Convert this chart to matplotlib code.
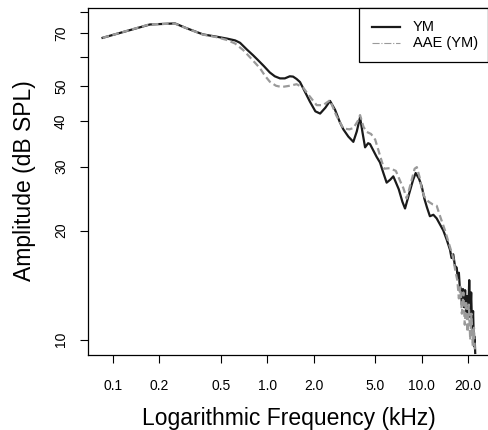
import matplotlib
matplotlib.use("Agg")
import matplotlib.pyplot as plt
from matplotlib.lines import Line2D
from matplotlib.patches import Rectangle

plt.rcParams['font.family'] = ['Liberation Sans', 'DejaVu Sans']

# ---- data ----
freq_ym = [0.086, 0.174, 0.253, 0.30, 0.384, 0.47, 0.547, 0.62, 0.667, 0.74, 0.81, 0.87,
           0.95, 1.04, 1.12, 1.21, 1.30, 1.40, 1.47, 1.55, 1.63, 1.71, 1.89, 2.05, 2.20,
           2.38, 2.55, 2.75, 2.95, 3.11, 3.35, 3.61, 3.80, 3.99, 4.15, 4.30, 4.50, 4.63,
           5.11, 5.37, 5.65, 5.93, 6.25, 6.55, 7.1, 7.5, 7.8, 8.3, 8.8, 9.14, 9.6, 10.0,
           10.4, 10.8, 11.3, 11.9, 12.5, 13.8, 14.5, 15.25, 15.6, 16.0, 16.4, 16.85, 17.1,
           17.4, 17.7, 17.9, 18.2, 18.5, 18.8, 19.1, 19.4, 19.7, 20.0, 20.3, 20.6, 20.9,
           21.2, 21.5, 21.8, 22.0, 22.2]
amp_ym = [67.9, 73.9, 74.4, 72.2, 69.4, 68.4, 67.6, 66.8, 65.8, 63.0, 60.8, 59.0,
          56.8, 54.5, 53.2, 52.5, 52.5, 53.2, 53.1, 52.3, 51.3, 49.3, 45.3, 42.6, 42.0,
          43.6, 45.5, 43.0, 39.8, 38.0, 36.3, 35.1, 37.5, 41.0, 37.0, 33.9, 34.8, 34.6,
          31.9, 30.8, 28.8, 27.1, 27.6, 28.2, 26.0, 24.0, 23.0, 25.3, 27.6, 28.8, 27.8, 26.5,
          24.5, 23.2, 21.9, 22.1, 21.6, 20.0, 18.9, 17.7, 16.8, 17.2, 16.0, 15.8, 14.8,
          15.3, 13.6, 13.9, 12.5, 13.8, 12.3, 13.7, 11.8, 13.2, 11.5, 14.6, 11.6, 13.5,
          10.6, 12.0, 9.6, 10.2, 9.2]

freq_aae = [0.086, 0.174, 0.253, 0.30, 0.384, 0.47, 0.547, 0.62, 0.70, 0.78, 0.898, 0.97,
            1.04, 1.14, 1.24, 1.40, 1.55, 1.71, 1.85, 2.09, 2.30, 2.55, 2.80, 3.11, 3.40,
            3.61, 3.85, 3.99, 4.2, 4.4, 4.7, 5.0, 5.3, 5.7, 6.2, 6.8, 7.3, 7.6, 8.0, 8.5,
            9.0, 9.3, 9.7, 10.0, 10.4, 11.1, 11.8, 12.5, 13.2, 14.1, 15.25, 16.0, 16.5,
            17.0, 17.4, 17.8, 18.2, 18.6, 19.0, 19.4, 19.8, 20.2, 20.6, 21.0, 21.4, 21.8, 22.1]
amp_aae = [67.9, 74.0, 74.3, 72.2, 69.3, 68.2, 67.0, 65.5, 62.8, 59.8, 56.0, 53.3,
           51.4, 50.1, 49.7, 50.1, 50.6, 49.5, 47.3, 44.3, 44.3, 45.7, 41.5, 38.2, 38.0,
           38.3, 40.0, 41.6, 38.6, 37.4, 36.9, 35.6, 32.8, 29.6, 29.7, 29.2, 27.2, 26.2, 24.5, 27.0,
           29.6, 29.9, 28.0, 26.0, 24.8, 24.0, 23.6, 23.4, 21.8, 20.1, 18.0, 16.8, 15.5,
           14.6, 13.0, 14.0, 11.8, 13.5, 11.0, 12.8, 10.5, 12.5, 10.0, 11.8, 9.6, 10.8, 9.3]

x_ticks = [0.1, 0.2, 0.5, 1.0, 2.0, 5.0, 10.0, 20.0]
x_tick_labels = ["0.1", "0.2", "0.5", "1.0", "2.0", "5.0", "10.0", "20.0"]
y_ticks = [10, 20, 30, 40, 50, 60, 70, 80]
y_tick_labels = ["10", "20", "30", "40", "50", "", "70", ""]

series_labels = ["YM", "AAE (YM)"]

# ---- figure ----
W, H = 489, 430
fig = plt.figure(figsize=(W / 100, H / 100), dpi=100)
ax = fig.add_axes([88 / W, 1 - 355 / H, (488.5 - 88) / W, (355 - 8) / H])

ax.plot(freq_ym, amp_ym, color='#1a1a1a', lw=1.6, solid_joinstyle='round')
ax.plot(freq_aae, amp_aae, color='#9a9a9a', lw=1.6, dashes=(3, 1.6))

ax.set_xscale('log')
ax.set_yscale('log')
ax.set_xlim(0.0692, 27.06)
ax.set_ylim(9.08, 82.05)

ax.set_xticks(x_ticks)
ax.set_xticklabels(x_tick_labels)
ax.set_yticks(y_ticks)
ax.set_yticklabels(y_tick_labels, rotation=90, va='center')
ax.minorticks_off()
ax.tick_params(axis='both', direction='out', length=6, width=0.8, labelsize=10, colors='black')
ax.tick_params(axis='x', pad=11)
ax.tick_params(axis='y', pad=8.4)
for s in ax.spines.values():
    s.set_linewidth(0.9)
    s.set_color('black')

fig.text(288.5 / W, 1 - 418 / H, "Logarithmic Frequency (kHz)", ha='center', va='center', fontsize=16.5)
fig.text(25 / W, 1 - 181 / H, "Amplitude (dB SPL)", ha='center', va='center', rotation=90, fontsize=16.5)

# ---- legend drawn manually in figure pixels ----
def fx(px):
    return px / W

def fy(py):
    return 1 - py / H

fig.add_artist(Rectangle((fx(359), fy(62)), fx(488.5) - fx(359), fy(8) - fy(62),
                         transform=fig.transFigure, facecolor='white', edgecolor='black', lw=0.9, zorder=5))
fig.add_artist(Line2D([fx(372), fx(400)], [fy(27), fy(27)], transform=fig.transFigure,
                      color='#1a1a1a', lw=1.6, zorder=6))
fig.add_artist(Line2D([fx(372), fx(400)], [fy(43), fy(43)], transform=fig.transFigure,
                      color='#9a9a9a', lw=0.8, linestyle='-.', zorder=6))
fig.text(fx(413), fy(27), series_labels[0], ha='left', va='center', fontsize=10.5, zorder=7)
fig.text(fx(413), fy(43), series_labels[1], ha='left', va='center', fontsize=10.5, zorder=7)

fig.savefig("out.png", dpi=100)
